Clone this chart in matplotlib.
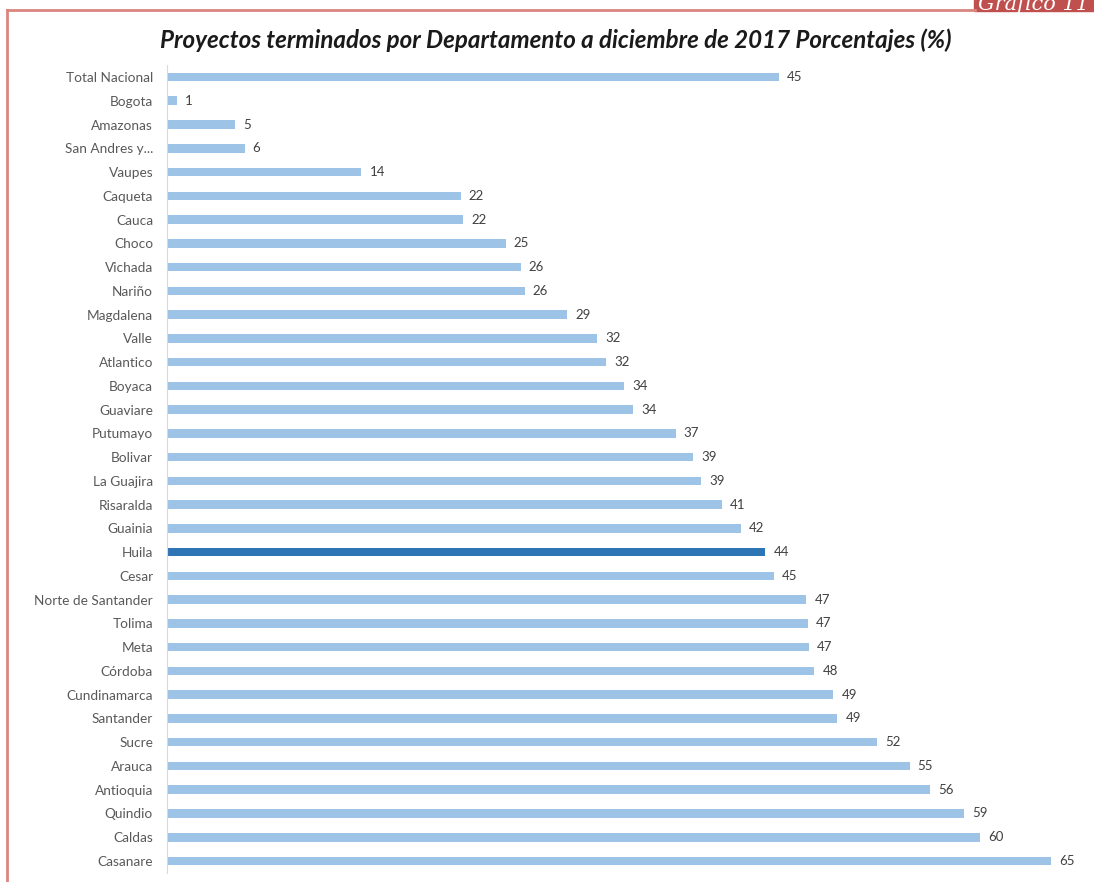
import numpy as np
import matplotlib.pyplot as plt
from matplotlib.patches import Rectangle
from matplotlib.lines import Line2D

# data ######################################################################
departamentos = ["Total Nacional", "Bogota", "Amazonas", "San Andres y...", "Vaupes",
                 "Caqueta", "Cauca", "Choco", "Vichada", "Nariño", "Magdalena", "Valle",
                 "Atlantico", "Boyaca", "Guaviare", "Putumayo", "Bolivar", "La Guajira",
                 "Risaralda", "Guainia", "Huila", "Cesar", "Norte de Santander", "Tolima",
                 "Meta", "Córdoba", "Cundinamarca", "Santander", "Sucre", "Arauca",
                 "Antioquia", "Quindio", "Caldas", "Casanare"]
valores = [45, 0.7, 5, 5.7, 14.3, 21.6, 21.8, 24.9, 26.0, 26.3, 29.4, 31.6,
           32.3, 33.6, 34.3, 37.4, 38.7, 39.3, 40.8, 42.2, 44.0, 44.6, 47.0, 47.1,
           47.2, 47.6, 49.0, 49.3, 52.2, 54.6, 56.1, 58.6, 59.8, 65.0]
etiquetas = ["45", "1", "5", "6", "14", "22", "22", "25", "26", "26", "29", "32",
             "32", "34", "34", "37", "39", "39", "41", "42", "44", "45", "47", "47",
             "47", "48", "49", "49", "52", "55", "56", "59", "60", "65"]
destacado = "Huila"

plt.rcParams['font.family'] = ['Lato', 'DejaVu Sans']

fig = plt.figure(figsize=(10.94, 8.82), dpi=100)
W, H = 1094, 882
n = len(departamentos)
step = (861 - 77) / (n - 1)
top = 77 - step / 2
bottom = 861 + step / 2
ax = fig.add_axes([167 / W, 1 - bottom / H, 884 / W, (bottom - top) / H])

y = np.arange(n)
colores = ['#2E75B6' if d == destacado else '#9DC3E6' for d in departamentos]
ax.barh(y, valores, height=0.36, color=colores)
for yi, v, t in zip(y, valores, etiquetas):
    ax.text(v + 0.6, yi, t, va='center', ha='left', fontsize=9.5, color='#404040', clip_on=False)

ax.set_xlim(0, 65)
ax.set_ylim(n - 0.5, -0.5)
ax.set_yticks(y)
ax.set_yticklabels(departamentos, fontsize=9.8, color='#595959')
ax.set_xticks([])
ax.tick_params(axis='y', length=0, pad=10)
for s in ['top', 'right', 'bottom']:
    ax.spines[s].set_visible(False)
ax.spines['left'].set_color('#D9D9D9')

fig.text(556 / W, 1 - 40 / H, "Proyectos terminados por Departamento a diciembre de 2017 Porcentajes (%)",
         ha='center', va='center', fontsize=17.4, fontweight='bold', style='italic', color='#1a1a1a')

# frame and tab
fig.add_artist(Line2D([7 / W, 7 / W], [0, 1 - 10 / H], color='#D9867E', lw=2))
fig.add_artist(Line2D([7 / W, 975 / W], [1 - 10 / H, 1 - 10 / H], color='#D9867E', lw=2))
fig.add_artist(Rectangle((974 / W, 1 - 11 / H), 120 / W, 11 / H, color='#C0504D', transform=fig.transFigure))
fig.text(1034 / W, 1 - 3 / H, "Gráfico 11", ha='center', va='center', fontsize=15, style='italic',
         color='white', family='DejaVu Serif')

fig.savefig("out.png", dpi=100)
